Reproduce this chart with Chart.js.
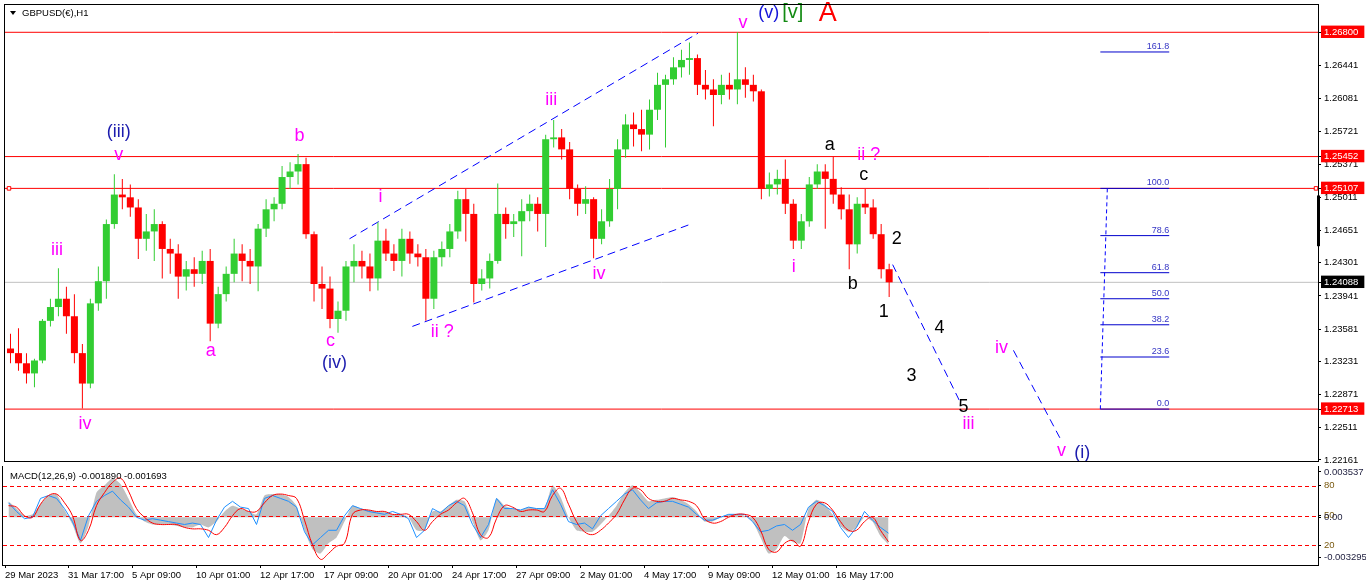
<!DOCTYPE html>
<html>
<head>
<meta charset="utf-8">
<script src="https://cdn.jsdelivr.net/npm/chart.js@4.4.0/dist/chart.umd.min.js"></script>
<style>
  html, body { margin: 0; padding: 0; background: #fff; overflow: hidden; }
  #wrap { position: relative; width: 1366px; height: 588px; }
  #main { position: absolute; left: 0; top: 0; }
  #osc { position: absolute; left: 0; top: 466px; }
</style>
</head>
<body>
<div id="wrap">
  <canvas id="main" width="1366" height="466"></canvas>
  <canvas id="osc" width="1366" height="122"></canvas>
</div>
<script>
const barsPerCandle = 8;
const firstOpen = 1.2337;
const closes = [
  1.2332, 1.2321, 1.2310, 1.2324, 1.2367, 1.2382, 1.2391, 1.2372, 1.2332, 1.2299,
  1.2386, 1.2410, 1.2472, 1.2504, 1.2501, 1.2490, 1.2456, 1.2464, 1.2472, 1.2445,
  1.2440, 1.2415, 1.2423, 1.2418, 1.2432, 1.2364, 1.2396, 1.2418, 1.2440, 1.2432,
  1.2426, 1.2467, 1.2488, 1.2494, 1.2523, 1.2529, 1.2537, 1.2461, 1.2407, 1.2402,
  1.2369, 1.2378, 1.2426, 1.2432, 1.2426, 1.2413, 1.2454, 1.2440, 1.2432, 1.2456,
  1.2440, 1.2436, 1.2391, 1.2436, 1.2445, 1.2464, 1.2499, 1.2483, 1.2407, 1.2413,
  1.2432, 1.2483, 1.2472, 1.2475, 1.2486, 1.2494, 1.2483, 1.2564, 1.2566, 1.2553,
  1.2510, 1.2494, 1.2499, 1.2456, 1.2475, 1.2510, 1.2553, 1.2580, 1.2575, 1.2569,
  1.2596, 1.2623, 1.2629, 1.2642, 1.2650, 1.2652, 1.2623, 1.2618, 1.2612, 1.2623,
  1.2618, 1.2629, 1.2623, 1.2616, 1.2510, 1.2515, 1.2521, 1.2494, 1.2454, 1.2475,
  1.2515, 1.2529, 1.2521, 1.2504, 1.2488, 1.2450, 1.2494, 1.2490, 1.2461, 1.2423,
  1.24088
];
const highs = [
  1.2353, 1.2359, 1.2332, 1.2326, 1.2369, 1.2391, 1.2424, 1.2404, 1.2396, 1.2342,
  1.2391, 1.2426, 1.2477, 1.2526, 1.2521, 1.2515, 1.2499, 1.2483, 1.2488, 1.2475,
  1.2456, 1.2450, 1.2432, 1.2436, 1.2443, 1.2445, 1.2404, 1.2426, 1.2456, 1.2450,
  1.2445, 1.2472, 1.2499, 1.2501, 1.2535, 1.2539, 1.2548, 1.2544, 1.2464, 1.2426,
  1.2415, 1.2388, 1.2432, 1.2450, 1.2443, 1.2440, 1.2474, 1.2467, 1.2450, 1.2467,
  1.2464, 1.2450, 1.2445, 1.2443, 1.2453, 1.2472, 1.2508, 1.2510, 1.2494, 1.2423,
  1.2440, 1.2516, 1.2490, 1.2483, 1.2499, 1.2504, 1.2501, 1.2569, 1.2585, 1.2575,
  1.2561, 1.2515, 1.2513, 1.2501, 1.2488, 1.2521, 1.2564, 1.2591, 1.2593, 1.2596,
  1.2607, 1.2636, 1.2634, 1.2653, 1.2661, 1.2669, 1.2656, 1.2639, 1.2629, 1.2634,
  1.2636, 1.2680, 1.2642, 1.2634, 1.2618, 1.2528, 1.2531, 1.2542, 1.2499, 1.2483,
  1.2523, 1.2537, 1.2537, 1.2545, 1.2512, 1.2504, 1.2501, 1.2510, 1.2499, 1.2472,
  1.2429
];
const lows = [
  1.2321, 1.2313, 1.2299, 1.2295, 1.2321, 1.2361, 1.2372, 1.2353, 1.2321, 1.2272,
  1.2294, 1.2378, 1.2391, 1.2467, 1.2488, 1.2480, 1.2434, 1.2443, 1.2432, 1.2413,
  1.2418, 1.2391, 1.2400, 1.2404, 1.2407, 1.2345, 1.2359, 1.2388, 1.2409, 1.2410,
  1.2407, 1.2399, 1.2458, 1.2475, 1.2488, 1.2510, 1.2515, 1.2456, 1.2388, 1.2380,
  1.2359, 1.2354, 1.2367, 1.2409, 1.2413, 1.2399, 1.2400, 1.2432, 1.2421, 1.2415,
  1.2429, 1.2426, 1.2367, 1.2380, 1.2426, 1.2436, 1.2456, 1.2453, 1.2387, 1.2400,
  1.2402, 1.2429, 1.2456, 1.2458, 1.2437, 1.2475, 1.2464, 1.2447, 1.2555, 1.2542,
  1.2499, 1.2481, 1.2483, 1.2435, 1.2450, 1.2469, 1.2488, 1.2544, 1.2556, 1.2551,
  1.2553, 1.2585, 1.2555, 1.2623, 1.2631, 1.2634, 1.2612, 1.2607, 1.2578, 1.2602,
  1.2607, 1.2602, 1.2609, 1.2605, 1.2499, 1.2502, 1.2504, 1.2483, 1.2445, 1.2445,
  1.2469, 1.2510, 1.2467, 1.2494, 1.2477, 1.2423, 1.2440, 1.2483, 1.2456, 1.2413,
  1.2393
];

// MACD panel: grey histogram, blue line, red signal
const macdHist = [
  0.0011, 0.0006, 0.0001, 0.0002, 0.0009, 0.0015, 0.0016, 0.0005, -0.0005, -0.0018,
  -0.0006, 0.0017, 0.0022, 0.0027, 0.0023, 0.0013, 0.0002, -0.0003, -0.0005, -0.0005,
  -0.0005, -0.0006, -0.0007, -0.0007, -0.0005, -0.0007, -0.0003, 0.0004, 0.0008, 0.0006,
  0.0004, 0.0002, 0.0015, 0.0016, 0.0016, 0.0014, 0.0008, -0.0009, -0.0022, -0.0025,
  -0.0018, -0.0014, -0.0003, 0.0008, 0.0006, 0.0005, 0.0004, 0.0004, 0.0002, 0.0002,
  0.0000, -0.0009, -0.0009, 0.0004, 0.0004, 0.0008, 0.0012, 0.0011, -0.0003, -0.0016,
  -0.0009, 0.0013, 0.0008, 0.0006, 0.0005, 0.0007, 0.0006, 0.0006, 0.0022, 0.0014,
  0.0000, -0.0009, -0.0010, -0.0010, -0.0005, 0.0001, 0.0008, 0.0017, 0.0022, 0.0017,
  0.0011, 0.0012, 0.0013, 0.0014, 0.0012, 0.0009, 0.0004, -0.0003, -0.0003, 0.0000,
  0.0002, 0.0002, 0.0001, -0.0003, -0.0014, -0.0025, -0.0022, -0.0013, -0.0017, -0.0018,
  0.0006, 0.0012, 0.0009, 0.0002, -0.0006, -0.0010, -0.0007, 0.0000, -0.0003, -0.0013,
  -0.00189
];
const macdLine = [
  0.0010, 0.0004, -0.0001, 0.0000, 0.0013, 0.0015, 0.0013, 0.0006, -0.0003, -0.0016,
  0.0001, 0.0011, 0.0015, 0.0018, 0.0012, 0.0007, 0.0000, -0.0002, -0.0001, -0.0002,
  -0.0003, -0.0004, -0.0005, -0.0004, -0.0005, -0.0014, -0.0002, 0.0007, 0.0011, 0.0007,
  0.0006, -0.0005, 0.0013, 0.0015, 0.0013, 0.0011, 0.0007, -0.0010, -0.0019, -0.0014,
  -0.0009, -0.0009, 0.0001, 0.0008, 0.0006, 0.0004, 0.0003, 0.0002, 0.0004, 0.0002,
  -0.0001, -0.0014, -0.0009, 0.0006, 0.0003, 0.0008, 0.0011, 0.0008, -0.0005, -0.0014,
  -0.0005, 0.0013, 0.0006, 0.0006, 0.0005, 0.0007, 0.0006, 0.0006, 0.0019, 0.0009,
  -0.0003, -0.0005, -0.0004, -0.0008, 0.0001, 0.0006, 0.0011, 0.0016, 0.0019, 0.0012,
  0.0006, 0.0010, 0.0011, 0.0011, 0.0009, 0.0007, 0.0002, -0.0002, -0.0002, 0.0000,
  0.0002, 0.0002, 0.0002, -0.0003, -0.0010, -0.0009, -0.0006, -0.0005, -0.0009, -0.0005,
  0.0007, 0.0011, 0.0008, 0.0004, -0.0007, -0.0014, -0.0007, 0.0004, -0.0002, -0.0007,
  -0.0011
];
const macdSignal = [
  0.0008, 0.0007, 0.0001, 0.0000, 0.0009, 0.0015, 0.0016, 0.0010, 0.0001, -0.0016,
  -0.0009, 0.0008, 0.0017, 0.0024, 0.0027, 0.0018, 0.0006, 0.0000, -0.0004, -0.0005,
  -0.0005, -0.0005, -0.0007, -0.0008, -0.0008, -0.0009, -0.0012, -0.0007, 0.0001, 0.0006,
  0.0004, 0.0004, 0.0010, 0.0015, 0.0016, 0.0015, 0.0013, -0.0002, -0.0019, -0.0029,
  -0.0025, -0.0020, -0.0018, 0.0002, 0.0005, 0.0005, 0.0004, 0.0004, 0.0002, 0.0002,
  0.0002, -0.0003, -0.0009, -0.0003, 0.0002, 0.0005, 0.0010, 0.0013, 0.0003, -0.0012,
  -0.0014, -0.0001, 0.0008, 0.0007, 0.0004, 0.0005, 0.0005, 0.0004, 0.0015, 0.0020,
  0.0009, -0.0003, -0.0010, -0.0012, -0.0009, -0.0004, 0.0002, 0.0012, 0.0020, 0.0019,
  0.0013, 0.0011, 0.0011, 0.0013, 0.0012, 0.0011, 0.0008, -0.0001, -0.0004, -0.0003,
  0.0000, 0.0002, 0.0002, 0.0000, -0.0009, -0.0022, -0.0024, -0.0018, -0.0016, -0.0020,
  -0.0003, 0.0009, 0.0010, 0.0005, -0.0003, -0.0009, -0.0009, -0.0003, 0.0000, -0.0009,
  -0.001693
];
const macdMax = 0.003537;
const macdMin = -0.003295;
const oscLevels = [80, 50, 20];
const macdTitle = 'MACD(12,26,9) -0.001890 -0.001693';
const symbolTitle = 'GBPUSD(\u20ac),H1';

// time axis (H1 bar number from the first bar) and its labels
const timeBars = [0, 63, 127, 191, 255, 319, 383, 447, 511, 575, 639, 703, 767, 831];
const timeLabels = ['29 Mar 2023', '31 Mar 17:00', '5 Apr 09:00', '10 Apr 01:00', '12 Apr 17:00',
  '17 Apr 09:00', '20 Apr 01:00', '24 Apr 17:00', '27 Apr 09:00', '2 May 01:00',
  '4 May 17:00', '9 May 09:00', '12 May 01:00', '16 May 17:00'];

// price axis
const priceTicks = [1.26441, 1.26081, 1.25721, 1.25371, 1.25011, 1.24651, 1.24301,
  1.23941, 1.23581, 1.23231, 1.22871, 1.22511, 1.22161];
const redLevels = [1.26800, 1.25452, 1.25107, 1.22713];
const bidPrice = 1.24088;

// fibonacci retracement between the two levels
const fibLow = 1.22713;
const fibHigh = 1.25107;
const fibLevels = [0, 23.6, 38.2, 50, 61.8, 78.6, 100, 161.8];

// trend lines [bar, price]
const channelUpper = [[343, 1.2456], [692, 1.2679]];
const channelLower = [[406, 1.2361], [685, 1.2472]];
const projection1 = [[887, 1.2428], [955, 1.2278]];
const projection2 = [[1008, 1.2335], [1056, 1.2237]];
const fibStem = [[1102, 1.25107], [1095, 1.22713]];

// wave count labels [text, bar, price, colour, size]
const waveLabels = [
  ['(iii)', 112, 1.2572, 'navy', 18], ['v', 112, 1.2547, 'mag', 18],
  ['iii', 50, 1.2444, 'mag', 18], ['iv', 78, 1.2255, 'mag', 18],
  ['a', 204, 1.2334, 'mag', 18], ['b', 293, 1.2567, 'mag', 18],
  ['c', 324, 1.2345, 'mag', 18], ['(iv)', 328, 1.2321, 'navy', 18],
  ['i', 374, 1.2501, 'mag', 18], ['ii ?', 436, 1.2355, 'mag', 18],
  ['iii', 545, 1.2607, 'mag', 18], ['iv', 593, 1.2418, 'mag', 18],
  ['v', 737, 1.2690, 'mag', 18], ['(v)', 763, 1.2701, 'blue', 18],
  ['[v]', 787, 1.2701, 'green', 20], ['A', 822, 1.2700, 'red', 27],
  ['a', 824, 1.2558, 'black', 18], ['ii ?', 863, 1.2547, 'mag', 18],
  ['c', 858, 1.2525, 'black', 18], ['i', 788, 1.2425, 'mag', 18],
  ['b', 847, 1.2407, 'black', 18], ['1', 878, 1.2377, 'black', 18],
  ['2', 891, 1.2456, 'black', 18], ['3', 906, 1.2307, 'black', 18],
  ['4', 934, 1.2359, 'black', 18], ['5', 958, 1.2274, 'black', 18],
  ['iii', 963, 1.2255, 'mag', 18], ['iv', 996, 1.2338, 'mag', 18],
  ['v', 1056, 1.2226, 'mag', 18], ['(i)', 1077, 1.2224, 'navy', 18]
];

const waveColors = { mag: '#ff00ff', navy: '#1c1cae', blue: '#1414d8', green: '#128a12', red: '#ff0000', black: '#000000' };
const UP = '#32cd32', DOWN = '#ff0000';
const axisFont = { family: 'Liberation Sans', size: 9.5 };
const smallFont = '9.5px "Liberation Sans", Arial, sans-serif';
const X_MIN = -2, X_MAX = 1313, FIB_START = 1095, FIB_END = 1164;

const candleX = closes.map((c, k) => k * barsPerCandle + 3.5);
const opens = closes.map((c, k) => k === 0 ? firstOpen : closes[k - 1]);
const candleColor = closes.map((c, k) => c >= opens[k] ? UP : DOWN);
const fibPrice = l => fibLow + (fibHigh - fibLow) * l / 100;

function seg(points, color, dash, order) {
  return {
    type: 'line', data: points.map(p => ({ x: p[0], y: p[1] })),
    borderColor: color, borderWidth: 1, borderDash: dash || [],
    pointRadius: 0, fill: false, order: order || 2
  };
}

function zeroPad(s) { s.paddingLeft = 0; s.paddingRight = 0; s.paddingTop = 0; s.paddingBottom = 0; }

const framePlugin = {
  id: 'frame',
  afterDraw(chart) {
    const { ctx, chartArea: a } = chart;
    ctx.save();
    ctx.strokeStyle = '#000';
    ctx.lineWidth = 1;
    ctx.strokeRect(Math.round(a.left) - 0.5, Math.round(a.top) - 0.5,
      Math.round(a.right - a.left) + 1, Math.round(a.bottom - a.top) + 1);
    ctx.restore();
  }
};

const textPlugin = {
  id: 'texts',
  afterDatasetsDraw(chart) {
    const { ctx, scales: { x, y }, chartArea: a } = chart;
    ctx.save();
    ctx.textAlign = 'center';
    ctx.textBaseline = 'middle';
    waveLabels.forEach(([t, b, p, c, s]) => {
      ctx.font = s + 'px "Liberation Sans", Arial, sans-serif';
      ctx.fillStyle = waveColors[c];
      ctx.fillText(t, x.getPixelForValue(b), y.getPixelForValue(p));
    });
    ctx.font = '9px "Liberation Sans", Arial, sans-serif';
    ctx.textAlign = 'right';
    ctx.textBaseline = 'bottom';
    ctx.fillStyle = '#3434c4';
    fibLevels.forEach(l => {
      ctx.fillText(l.toFixed(1), x.getPixelForValue(FIB_END), y.getPixelForValue(fibPrice(l)) - 1);
    });
    // symbol caption with its little drop-down arrow
    ctx.fillStyle = '#000';
    ctx.beginPath();
    ctx.moveTo(a.left + 5, a.top + 6);
    ctx.lineTo(a.left + 11, a.top + 6);
    ctx.lineTo(a.left + 8, a.top + 10);
    ctx.closePath();
    ctx.fill();
    ctx.font = smallFont;
    ctx.textAlign = 'left';
    ctx.textBaseline = 'middle';
    ctx.fillText(symbolTitle, a.left + 17, a.top + 8);
    // right-axis marker
    ctx.fillRect(a.right - 1, y.getPixelForValue(1.2503), 3, y.getPixelForValue(1.2448) - y.getPixelForValue(1.2503));
    ctx.restore();
  }
};

const mainDatasets = [
  {
    type: 'bar', label: 'body', order: 0, grouped: false, inflateAmount: 0,
    data: candleX.map((x, k) => ({ x, y: [opens[k], closes[k]] })),
    backgroundColor: candleColor, barThickness: 7
  },
  {
    type: 'bar', label: 'wick', order: 1, grouped: false, inflateAmount: 0,
    data: candleX.map((x, k) => ({ x, y: [lows[k], highs[k]] })),
    backgroundColor: candleColor, barThickness: 1
  },
  seg([[X_MIN, bidPrice], [X_MAX, bidPrice]], '#c0c0c0', [], 4)
];
redLevels.forEach(v => mainDatasets.push(seg([[X_MIN, v], [X_MAX, v]], '#ff0000', [], 3)));
mainDatasets.push({
  type: 'line', data: [{ x: 2, y: redLevels[2] }, { x: 1311, y: redLevels[2] }], showLine: false,
  pointStyle: 'rect', pointRadius: 2.5, borderColor: '#ff0000', borderWidth: 1,
  pointBackgroundColor: '#ffffff', order: 2
});
[channelUpper, channelLower, projection1, projection2].forEach(l =>
  mainDatasets.push(seg(l, '#0000ff', [8, 5], 2)));
mainDatasets.push(seg(fibStem, '#0000ff', [4, 3], 2));
fibLevels.forEach(l => mainDatasets.push(seg([[FIB_START, fibPrice(l)], [FIB_END, fibPrice(l)]], '#0000cc', [], 2)));

const badgeColor = v => {
  if (redLevels.some(r => Math.abs(r - v) < 1e-7)) return '#ff0000';
  if (Math.abs(v - bidPrice) < 1e-7) return '#000000';
  return null;
};

new Chart(document.getElementById('main'), {
  type: 'line',
  data: { datasets: mainDatasets },
  options: {
    responsive: false, animation: false, events: [],
    layout: { padding: { left: 3, top: 5, right: 0, bottom: 3 } },
    plugins: { legend: { display: false }, tooltip: { enabled: false } },
    scales: {
      x: { type: 'linear', display: false, min: X_MIN, max: X_MAX, offset: false },
      y: {
        type: 'linear', position: 'right', min: 1.22150, max: 1.27096,
        afterBuildTicks: s => {
          s.ticks = priceTicks.concat(redLevels, [bidPrice]).sort((a, b) => a - b).map(v => ({ value: v }));
        },
        afterFit: s => { s.width = 48; zeroPad(s); },
        border: { display: false },
        grid: { drawOnChartArea: false, drawTicks: true, tickLength: 3, color: '#000' },
        ticks: {
          autoSkip: false, padding: 3, font: axisFont,
          color: c => badgeColor(c.tick.value) ? '#ffffff' : '#000000',
          showLabelBackdrop: c => !!badgeColor(c.tick.value),
          backdropColor: c => badgeColor(c.tick.value) || 'rgba(0,0,0,0)',
          backdropPadding: { top: 1, bottom: 0, left: 3, right: 6 },
          callback: v => v.toFixed(5)
        }
      }
    }
  },
  plugins: [framePlugin, textPlugin]
});

// ---- MACD sub-window ----
const zeroLv = (0 - macdMin) / (macdMax - macdMin) * 100;
const oscTicks = [
  { value: 94, label: macdMax.toFixed(6), color: '#1c1c3c' },
  { value: 80, label: '80', color: '#7a5a10' },
  { value: 50, label: '50', color: '#7a5a10' },
  { value: zeroLv, label: '0.00', color: '#1c1c3c' },
  { value: 20, label: '20', color: '#7a5a10' },
  { value: 8, label: macdMin.toFixed(6), color: '#1c1c3c' }
];

const oscDatasets = [
  {
    type: 'line', yAxisID: 'y', order: 0, data: candleX.map((x, k) => ({ x, y: macdSignal[k] })),
    borderColor: '#ff0000', borderWidth: 1, pointRadius: 0, tension: 0.4, fill: false
  },
  {
    type: 'line', yAxisID: 'y', order: 1, data: candleX.map((x, k) => ({ x, y: macdLine[k] })),
    borderColor: '#1e90ff', borderWidth: 1, pointRadius: 0, tension: 0, fill: false
  },
  {
    type: 'line', yAxisID: 'y', order: 3, data: candleX.map((x, k) => ({ x, y: macdHist[k] })),
    borderWidth: 0, borderColor: 'rgba(0,0,0,0)', backgroundColor: '#c0c0c0', pointRadius: 0, tension: 0.2, fill: 'origin'
  }
];

// red dotted level lines, drawn through the 0-100 level scale right after the grey histogram
const levelPlugin = {
  id: 'levels',
  afterDatasetDraw(chart, args) {
    if (args.index !== 2) return;
    const { ctx, chartArea: a, scales: { lv } } = chart;
    ctx.save();
    ctx.strokeStyle = '#ff0000';
    ctx.lineWidth = 1;
    ctx.setLineDash([4, 3]);
    oscLevels.forEach(l => {
      const py = Math.round(lv.getPixelForValue(l)) + 0.5;
      ctx.beginPath();
      ctx.moveTo(a.left, py);
      ctx.lineTo(a.right, py);
      ctx.stroke();
    });
    ctx.restore();
  }
};

const oscTitlePlugin = {
  id: 'oscTitle',
  afterDraw(chart) {
    const { ctx, chartArea: a } = chart;
    ctx.save();
    ctx.font = smallFont;
    ctx.fillStyle = '#000';
    ctx.textAlign = 'left';
    ctx.textBaseline = 'middle';
    ctx.fillText(macdTitle, a.left + 7, a.top + 10);
    ctx.restore();
  }
};

new Chart(document.getElementById('osc'), {
  type: 'line',
  data: { datasets: oscDatasets },
  options: {
    responsive: false, animation: false, events: [],
    layout: { padding: { left: 3, top: 0, right: 0, bottom: 0 } },
    plugins: { legend: { display: false }, tooltip: { enabled: false } },
    scales: {
      x: {
        type: 'linear', position: 'bottom', min: X_MIN, max: X_MAX, offset: false,
        afterBuildTicks: s => { s.ticks = timeBars.map(v => ({ value: v })); },
        afterFit: s => { s.height = 23; zeroPad(s); },
        border: { display: false },
        grid: { drawOnChartArea: false, drawTicks: true, tickLength: 3, color: '#000' },
        ticks: {
          autoSkip: false, maxRotation: 0, minRotation: 0, align: 'start', padding: 2,
          font: axisFont, color: '#000', callback: (v, i) => timeLabels[i]
        }
      },
      y: { type: 'linear', display: false, min: macdMin, max: macdMax },
      lv: {
        type: 'linear', position: 'right', min: 0, max: 100,
        afterBuildTicks: s => { s.ticks = oscTicks.map(t => ({ value: t.value })); },
        afterFit: s => { s.width = 48; zeroPad(s); },
        border: { display: false },
        grid: { drawOnChartArea: false, drawTicks: true, tickLength: 3, color: '#000' },
        ticks: {
          autoSkip: false, padding: 3, font: axisFont,
          color: c => oscTicks[c.index].color,
          callback: (v, i) => oscTicks[i].label
        }
      }
    }
  },
  plugins: [framePlugin, levelPlugin, oscTitlePlugin]
});
</script>
</body>
</html>
